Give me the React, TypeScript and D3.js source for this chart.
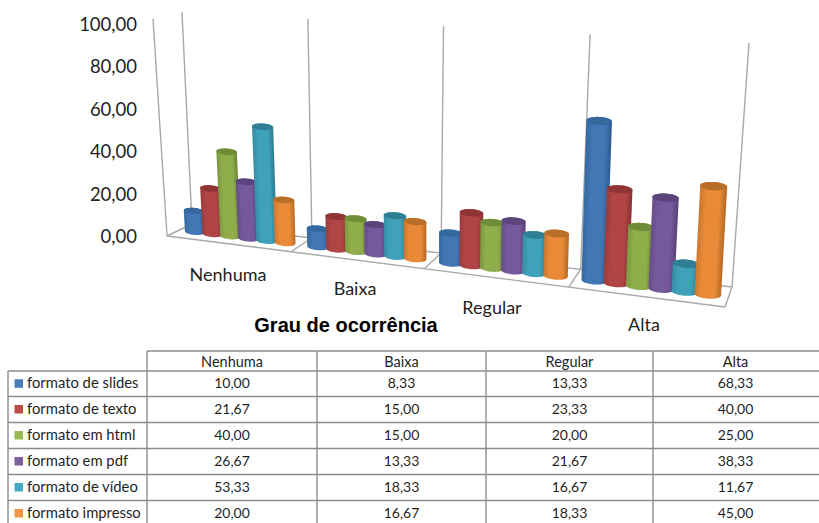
import React from "react";
import * as d3 from "d3";

// Chart data
const categories = ["Nenhuma", "Baixa", "Regular", "Alta"];
const seriesNames = [
  "formato de slides",
  "formato de texto",
  "formato em html",
  "formato em pdf",
  "formato de vídeo",
  "formato impresso",
];
const slides = [10.0, 8.33, 13.33, 68.33];
const texto = [21.67, 15.0, 23.33, 40.0];
const html = [40.0, 15.0, 20.0, 25.0];
const pdf = [26.67, 13.33, 21.67, 38.33];
const video = [53.33, 18.33, 16.67, 11.67];
const impresso = [20.0, 16.67, 18.33, 45.0];
const seriesValues = [slides, texto, html, pdf, video, impresso];
const valueTicks = [0, 20, 40, 60, 80, 100];

const bodyColors = ["#4177b5", "#b14545", "#8fae4b", "#76599c", "#3fa1ba", "#e98a38"];
const edgeColors = ["#38699f", "#9a3b3b", "#7d9a41", "#674d89", "#378da3", "#cc7830"];
const darkColors = ["#2f5c90", "#873232", "#6a8535", "#574076", "#2c7b90", "#b56a25"];
const topColors = ["#35689f", "#8f3535", "#6f8d38", "#5b437c", "#2f7f94", "#ba6f29"];
const keyColors = ["#4a7ebb", "#be4b48", "#98b954", "#7d60a0", "#46aac5", "#f39644"];

type Pt = [number, number];

// Corners of the 3D box in screen space: floor and ceiling, front and back edges
const floorFrontL: Pt = [167, 236];
const floorFrontR: Pt = [725, 307];
const floorBackL: Pt = [192, 224];
const floorBackR: Pt = [732, 287];
const topFrontL: Pt = [153, 19];
const topFrontR: Pt = [737, 52];
const topBackL: Pt = [182, 12];
const topBackR: Pt = [749, 43];

const lerp = (a: Pt, b: Pt, t: number): Pt => [a[0] + (b[0] - a[0]) * t, a[1] + (b[1] - a[1]) * t];

// Perspective foreshortening along the category axis
const foreshorten = 1.168;
const warp = (u: number) => u / (u + (1 - u) * foreshorten);

function project(u: number, v: number, h: number): Pt {
  const t = warp(u);
  const floor = lerp(lerp(floorFrontL, floorFrontR, t), lerp(floorBackL, floorBackR, t), v);
  const top = lerp(lerp(topFrontL, topFrontR, t), lerp(topBackL, topBackR, t), v);
  return lerp(floor, top, h);
}

// The walls rise a little past the 100 mark
const heightScale = d3.scaleLinear().domain([0, 100]).range([0, 0.97]);
const categoryScale = d3.scaleBand<number>().domain(d3.range(categories.length)).range([0, 1]);
const seriesScale = d3
  .scaleBand<number>()
  .domain(d3.range(seriesNames.length))
  .range([0, categoryScale.bandwidth()])
  .paddingInner(0)
  .paddingOuter(0.375);
const labelY = d3.scaleLinear().domain([0, 100]).range([236, 24]);

const closedLine = d3.line<Pt>().curve(d3.curveLinearClosed);
const barMidDepth = 0.5;
const radiusFactor = 1.12;
const ellipseFlatness = 0.155;

// Outline of a cylinder cross-section at height h, seen slightly from above
function ellipse(u: number, du: number, h: number): Pt[] {
  const c = project(u, barMidDepth, h);
  const e = project(u + du, barMidDepth, h);
  const a: Pt = [e[0] - c[0], e[1] - c[1]];
  const ry = Math.hypot(a[0], a[1]) * 2 * ellipseFlatness;
  return d3.range(0, 48).map((i) => {
    const t = (i / 48) * 2 * Math.PI;
    return [c[0] + a[0] * Math.cos(t), c[1] + a[1] * Math.cos(t) * 0.6 + ry * Math.sin(t)] as Pt;
  });
}

function Cylinder({ cat, ser, value }: { cat: number; ser: number; value: number }) {
  const band = seriesScale.bandwidth() / 2;
  const u = categoryScale(cat)! + seriesScale(ser)! + band;
  const du = band * radiusFactor;
  const h = heightScale(value);
  const bottom = ellipse(u, du, 0);
  const top = ellipse(u, du, h);
  const hull = d3.polygonHull([...bottom, ...top]) as Pt[];

  // Shade across the cylinder, perpendicular to its leaning axis
  const b = project(u, barMidDepth, 0);
  const t = project(u, barMidDepth, h);
  const axis: Pt = [t[0] - b[0], t[1] - b[1]];
  const len = Math.hypot(axis[0], axis[1]);
  const normal: Pt = [-axis[1] / len, axis[0] / len];
  const mid = lerp(b, t, 0.5);
  const half = (project(u + du, barMidDepth, 0)[0] - project(u - du, barMidDepth, 0)[0]) / 2;
  const sign = normal[0] > 0 ? 1 : -1;
  const id = `shade-${cat}-${ser}`;

  return (
    <g>
      <defs>
        <linearGradient
          id={id}
          gradientUnits="userSpaceOnUse"
          x1={mid[0] - sign * normal[0] * half}
          y1={mid[1] - sign * normal[1] * half}
          x2={mid[0] + sign * normal[0] * half}
          y2={mid[1] + sign * normal[1] * half}
        >
          <stop offset="0" stopColor={edgeColors[ser]} />
          <stop offset="0.25" stopColor={bodyColors[ser]} />
          <stop offset="0.75" stopColor={bodyColors[ser]} />
          <stop offset="1" stopColor={darkColors[ser]} />
        </linearGradient>
      </defs>
      <path d={closedLine(hull)!} fill={`url(#${id})`} />
      <path d={closedLine(top)!} fill={topColors[ser]} />
    </g>
  );
}

// Data table geometry
const columnEdges = [147, 317, 486, 653, 822];
const rowEdges = [371, 396.5, 422.5, 448.5, 474.5, 500.5, 526.5];
const headerTop = 351;
const tableLeft = 8;
const textNudge = -1.5;
const gridColor = "#8c8c8c";
const wallColor = "#a8a8a8";
const uiFont = "Lato, sans-serif";
const format = (v: number) => v.toFixed(2).replace(".", ",");

export default function App() {
  const boundaries = d3.range(categories.length + 1).map((i) => i / categories.length);
  const segment = (a: Pt, b: Pt, key: string, color = wallColor) => (
    <line key={key} x1={a[0]} y1={a[1]} x2={b[0]} y2={b[1]} stroke={color} strokeWidth={1.4} />
  );

  const categoryLabels: Pt[] = [
    [228, 274],
    [355, 288],
    [492, 307],
    [644, 324],
  ];

  return (
    <svg
      width={819}
      height={523}
      style={{ position: "absolute", left: 0, top: 0, background: "#fff" }}
      fontFamily={uiFont}
      fill="#1f1f1f"
    >
      {/* Walls and floor */}
      {segment(project(0, 0, 0), project(0, 0, 1), "front-axis")}
      {boundaries.map((u) => segment(project(u, 1, 0), project(u, 1, 1), `wall-${u}`))}
      {boundaries.map((u) => segment(project(u, 0, 0), project(u, 1, 0), `floor-${u}`))}
      {segment(project(0, 0, 0), project(1, 0, 0), "floor-front")}
      {segment(project(0, 1, 0), project(1, 1, 0), "floor-back")}

      {/* Cylinders */}
      {categories.map((_, c) =>
        seriesValues.map((vals, s) => <Cylinder key={`${c}-${s}`} cat={c} ser={s} value={vals[c]} />)
      )}

      {/* Value axis */}
      {valueTicks.map((t) => (
        <text key={t} x={137} y={labelY(t)} textAnchor="end" dominantBaseline="central" fontSize={18.5}>
          {format(t)}
        </text>
      ))}

      {/* Category labels */}
      {categories.map((c, i) => (
        <text
          key={c}
          x={categoryLabels[i][0]}
          y={categoryLabels[i][1]}
          textAnchor="middle"
          dominantBaseline="central"
          fontSize={18}
        >
          {c}
        </text>
      ))}

      <text
        x={346}
        y={325}
        textAnchor="middle"
        dominantBaseline="central"
        fontFamily="'Liberation Sans', Arial, sans-serif"
        fontWeight="bold"
        fontSize={20}
        fill="#000"
      >
        Grau de ocorrência
      </text>

      {/* Data table */}
      {segment([columnEdges[0], headerTop], [columnEdges[4], headerTop], "t-head", gridColor)}
      {rowEdges.slice(0, 6).map((y) =>
        segment([tableLeft, y], [columnEdges[4], y], `t-row-${y}`, gridColor)
      )}
      {segment([tableLeft, rowEdges[0]], [tableLeft, 523], "t-left", gridColor)}
      {columnEdges.slice(0, 4).map((x) => segment([x, headerTop], [x, 523], `t-col-${x}`, gridColor))}

      {categories.map((c, i) => (
        <text
          key={c}
          x={(columnEdges[i] + columnEdges[i + 1]) / 2 - (i === 3 ? 2 : 0)}
          y={(headerTop + rowEdges[0]) / 2}
          textAnchor="middle"
          dominantBaseline="central"
          fontSize={14.5}
        >
          {c}
        </text>
      ))}

      {seriesNames.map((name, s) => {
        const cy = (rowEdges[s] + rowEdges[s + 1]) / 2;
        return (
          <g key={name}>
            <rect x={14.5} y={cy - 4.5} width={8.5} height={8.5} fill={keyColors[s]} />
            <text x={27} y={cy + textNudge} dominantBaseline="central" fontSize={14.8}>
              {name}
            </text>
            {categories.map((c, i) => (
              <text
                key={c}
                x={(columnEdges[i] + columnEdges[i + 1]) / 2 - (i === 3 ? 2 : 0)}
                y={cy + textNudge}
                textAnchor="middle"
                dominantBaseline="central"
                fontSize={14}
              >
                {format(seriesValues[s][i])}
              </text>
            ))}
          </g>
        );
      })}
    </svg>
  );
}
